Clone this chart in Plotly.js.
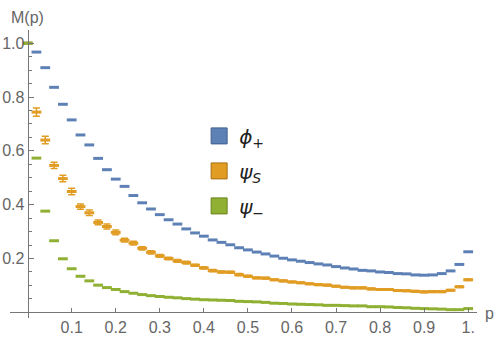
<!DOCTYPE html>
<html>
<head>
<meta charset="utf-8">
<script src="https://cdn.plot.ly/plotly-3.0.1.min.js"></script>
<style>
  html, body { margin: 0; padding: 0; background: #fff; }
  #chart { width: 500px; height: 338px; }
</style>
</head>
<body>
<div id="chart"></div>
<script>
// p values of the measured points
const p = [0, 0.02, 0.04, 0.06, 0.08, 0.10, 0.12, 0.14, 0.16, 0.18,
           0.20, 0.22, 0.24, 0.26, 0.28, 0.30, 0.32, 0.34, 0.36, 0.38,
           0.40, 0.42, 0.44, 0.46, 0.48, 0.50, 0.52, 0.54, 0.56, 0.58,
           0.60, 0.62, 0.64, 0.66, 0.68, 0.70, 0.72, 0.74, 0.76, 0.78,
           0.80, 0.82, 0.84, 0.86, 0.88, 0.90, 0.92, 0.94, 0.96, 0.98, 1.0];

const phiPlus = [1.0, 0.967, 0.909, 0.836, 0.773, 0.715, 0.659, 0.622, 0.572, 0.530,
                 0.495, 0.468, 0.434, 0.407, 0.384, 0.363, 0.344, 0.328, 0.310, 0.295,
                 0.283, 0.269, 0.260, 0.251, 0.240, 0.232, 0.224, 0.217, 0.209, 0.201,
                 0.195, 0.190, 0.185, 0.180, 0.176, 0.170, 0.165, 0.161, 0.156, 0.154,
                 0.150, 0.148, 0.144, 0.143, 0.139, 0.138, 0.139, 0.144, 0.154, 0.178, 0.225];

const psiS = [1.0, 0.744, 0.640, 0.546, 0.497, 0.449, 0.393, 0.370, 0.334, 0.319,
              0.297, 0.268, 0.257, 0.238, 0.223, 0.210, 0.200, 0.191, 0.185, 0.175,
              0.165, 0.155, 0.150, 0.149, 0.140, 0.134, 0.128, 0.127, 0.121, 0.117,
              0.113, 0.110, 0.106, 0.103, 0.101, 0.097, 0.093, 0.091, 0.091, 0.087,
              0.085, 0.085, 0.081, 0.080, 0.078, 0.076, 0.077, 0.077, 0.082, 0.095, 0.121];

const psiSErr = [0, 0.015, 0.014, 0.012, 0.012, 0.012, 0.010, 0.010, 0.009, 0.009,
                 0.009, 0.007, 0.007, 0.006, 0.006, 0.005, 0.005, 0.005, 0.005, 0.004,
                 0.004, 0.004, 0.004, 0.004, 0.004, 0.004, 0.003, 0.003, 0.003, 0.003,
                 0.003, 0.003, 0.003, 0.003, 0.003, 0.003, 0.003, 0.003, 0.003, 0.003,
                 0.003, 0.003, 0.003, 0.003, 0.003, 0.003, 0.003, 0.003, 0.003, 0.003, 0.003];

const psiMinus = [1.0, 0.573, 0.376, 0.266, 0.199, 0.162, 0.134, 0.117, 0.101, 0.092,
                  0.085, 0.077, 0.071, 0.066, 0.062, 0.059, 0.056, 0.054, 0.051, 0.049,
                  0.047, 0.046, 0.045, 0.044, 0.041, 0.040, 0.039, 0.037, 0.034, 0.033,
                  0.031, 0.030, 0.029, 0.028, 0.026, 0.026, 0.025, 0.024, 0.024, 0.021,
                  0.021, 0.020, 0.018, 0.017, 0.015, 0.014, 0.013, 0.012, 0.010, 0.010, 0.014];

const xTicks = [0.1, 0.2, 0.3, 0.4, 0.5, 0.6, 0.7, 0.8, 0.9, 1.0];
const xTickText = ['0.1', '0.2', '0.3', '0.4', '0.5', '0.6', '0.7', '0.8', '0.9', '1.'];
const yTicks = [0.2, 0.4, 0.6, 0.8, 1.0];
const yTickText = ['0.2', '0.4', '0.6', '0.8', '1.0'];
const yMinor = [0.05, 0.1, 0.15, 0.25, 0.3, 0.35, 0.45, 0.5, 0.55, 0.65, 0.7, 0.75, 0.85, 0.9, 0.95, 1.05];

const names = ['<i>ϕ</i><sub>+</sub>', '<i>ψ</i><sub><i>S</i></sub>', '<i>ψ</i><sub>−</sub>'];
const colors = ['#5e81b5', '#e19c24', '#8fb032'];
const edges = ['#3f5f8f', '#a86f10', '#66831c'];

const xRange = [-0.04, 1.02];
const yRange = [-0.021, 1.049];

function dashes(y, i, err) {
    let t = {
        x: p,
        y: y,
        type: 'scatter',
        mode: 'markers',
        showlegend: false,
        hoverinfo: 'x+y',
        marker: {
            symbol: 'line-ew',
            size: 7,
            color: colors[i],
            line: { color: colors[i], width: 3 }
        }
    };
    if (err) {
        t.error_y = {
            type: 'data',
            array: err,
            visible: true,
            color: colors[i],
            thickness: 1.5,
            width: 3.5
        };
    }
    return t;
}

// legend-only entries with square swatches
function swatch(i) {
    return {
        x: [null],
        y: [null],
        type: 'scatter',
        mode: 'markers',
        name: names[i],
        legendgroup: 'g' + i,
        marker: {
            symbol: 'square',
            size: 16,
            color: colors[i],
            line: { color: edges[i], width: 1 }
        }
    };
}

let data = [
    dashes(phiPlus, 0),
    dashes(psiS, 1, psiSErr),
    dashes(psiMinus, 2),
    swatch(0), swatch(1), swatch(2)
];

let axisFont = { family: 'Liberation Sans, Arial, sans-serif', size: 16, color: '#666' };
let axisGray = '#777';

let layout = {
    width: 500,
    height: 338,
    margin: { l: 10, r: 23, t: 30, b: 20 },
    paper_bgcolor: '#fff',
    plot_bgcolor: '#fff',
    showlegend: true,
    legend: {
        x: 0.405,
        y: 0.70,
        xanchor: 'left',
        yanchor: 'top',
        traceorder: 'grouped',
        tracegroupgap: 6,
        bgcolor: 'rgba(0,0,0,0)',
        font: { family: 'DejaVu Sans, sans-serif', size: 20, color: '#222' }
    },
    xaxis: {
        range: xRange,
        anchor: 'free',
        position: (0 - yRange[0]) / (yRange[1] - yRange[0]),
        showgrid: false,
        zeroline: false,
        showline: true,
        linecolor: axisGray,
        linewidth: 1,
        ticks: 'inside',
        ticklen: 4,
        tickcolor: axisGray,
        tickmode: 'array',
        tickvals: xTicks,
        ticktext: xTickText,
        tickfont: axisFont
    },
    yaxis: {
        range: yRange,
        anchor: 'free',
        position: (0 - xRange[0]) / (xRange[1] - xRange[0]),
        showgrid: false,
        zeroline: false,
        showline: true,
        linecolor: axisGray,
        linewidth: 1,
        ticks: 'inside',
        ticklen: 5,
        tickcolor: axisGray,
        tickmode: 'array',
        tickvals: yTicks,
        ticktext: yTickText,
        tickfont: axisFont,
        minor: {
            tickmode: 'array',
            tickvals: yMinor,
            ticks: 'inside',
            ticklen: 3,
            tickcolor: axisGray,
            showgrid: false
        }
    },
    annotations: [
        {
            text: 'M(p)', xref: 'paper', yref: 'paper', x: -0.002, y: 1.0,
            xanchor: 'left', yanchor: 'bottom', yshift: 2, showarrow: false,
            font: axisFont
        },
        {
            text: 'p', xref: 'paper', yref: 'paper', x: 1.0,
            y: (0 - yRange[0]) / (yRange[1] - yRange[0]),
            xanchor: 'left', yanchor: 'middle', xshift: 6, yshift: -1, showarrow: false,
            font: axisFont
        }
    ]
};

Plotly.newPlot('chart', data, layout, { staticPlot: true });
</script>
</body>
</html>
